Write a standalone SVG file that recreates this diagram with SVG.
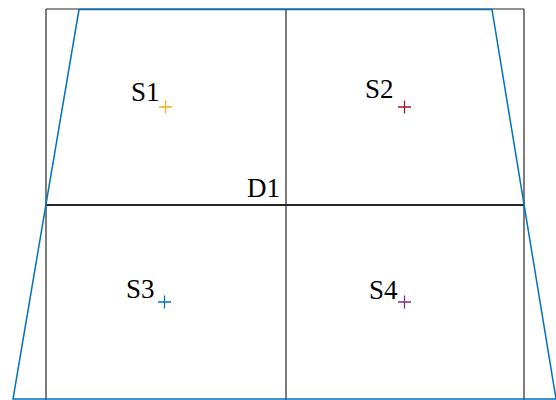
<svg xmlns="http://www.w3.org/2000/svg" width="556" height="400" viewBox="0 0 556 400">
<style>
.grid{stroke:#262626;stroke-width:1.2;fill:none}
.blue{stroke:#0072BD;stroke-width:1.5;fill:none}
.lbl{font-family:"Liberation Serif","Times New Roman",serif;font-size:27px;fill:#000}
.pt{stroke-width:1.3;fill:none}
</style>
<rect width="556" height="400" fill="#fff"/>
<g id="connectors">
<line class="grid" x1="46" y1="9" x2="524" y2="9"/>
<line class="grid" x1="46" y1="9" x2="46" y2="400"/>
<line class="grid" x1="524" y1="9" x2="524" y2="400"/>
<line class="grid" x1="286" y1="9" x2="286" y2="400"/>
<line class="grid" x1="46" y1="205" x2="524" y2="205" style="stroke-width:2"/>
<polyline class="blue" points="79,9.5 492,9.5 556,399 13,399 79,9.5"/>
</g>
<g id="D1"><text class="lbl" x="247" y="197">D1</text></g>
<g id="S1"><text class="lbl" x="131" y="101">S1</text><path class="pt" stroke="#EDB120" d="M159,107h13M165.5,100.5v13"/></g>
<g id="S2"><text class="lbl" x="365" y="98">S2</text><path class="pt" stroke="#A2142F" d="M398,107h13M404.5,100.5v13"/></g>
<g id="S3"><text class="lbl" x="126" y="298">S3</text><path class="pt" stroke="#0072BD" d="M158,302h13M164.5,295.5v13"/></g>
<g id="S4"><text class="lbl" x="369" y="299">S4</text><path class="pt" stroke="#7E2F8E" d="M398,302h13M404.5,295.5v13"/></g>
</svg>
